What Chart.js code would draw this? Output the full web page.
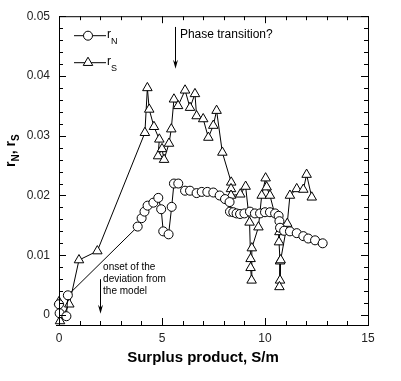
<!DOCTYPE html>
<html>
<head>
<meta charset="utf-8">
<script src="https://cdn.jsdelivr.net/npm/chart.js@4.4.0/dist/chart.umd.min.js"></script>
<style>
  html, body { margin: 0; padding: 0; background: #fff; }
  canvas { display: block; }
</style>
</head>
<body>
<canvas id="myChart" width="401" height="381"></canvas>
<script>
// r_N (circles)
const rNx = [0.0, 0.03, 0.36, 0.43, 3.82, 4.01, 4.15, 4.30, 4.58, 4.82, 4.96, 5.06, 5.32, 5.47,
  5.58, 5.79, 6.12, 6.36, 6.68, 6.93, 7.20, 7.49, 7.80, 8.06, 8.28, 8.30, 8.46, 8.62, 8.79,
  9.00, 9.27, 9.51, 9.76, 10.00, 10.24, 10.49, 10.66, 10.70, 10.73, 10.93, 11.21, 11.54,
  11.86, 12.10, 12.43, 12.80];
const rNy = [0.0018, 0.0003, -0.0002, 0.0033, 0.0148, 0.0162, 0.0173, 0.0183, 0.0188, 0.0196,
  0.0177, 0.0140, 0.0135, 0.0181, 0.0220, 0.0220, 0.0208, 0.0208, 0.0204, 0.0206, 0.0206,
  0.0205, 0.0200, 0.0194, 0.0189, 0.0173, 0.0172, 0.0170, 0.0169, 0.0170, 0.0173, 0.0170,
  0.0170, 0.0172, 0.0172, 0.0170, 0.0166, 0.0157, 0.0146, 0.0141, 0.0140, 0.0137, 0.0132,
  0.0128, 0.0125, 0.0120];

// r_S (triangles)
const rSx = [0.0, 0.05, 0.5, 0.97, 1.86, 4.17, 4.29, 4.38, 4.61, 4.87, 4.81, 5.0, 5.1, 5.34,
  5.45, 5.58, 5.78, 6.12, 6.36, 6.6, 6.68, 7.0, 7.25, 7.49, 7.65, 7.93, 8.36, 8.35, 8.35,
  8.80, 9.06, 9.25, 9.30, 9.30, 9.35, 9.36, 9.68, 9.84, 10.03, 10.08, 10.24, 10.70, 10.68,
  10.73, 10.73, 10.70, 10.76, 11.08, 11.21, 11.54, 11.86, 12.02, 12.27];
const rSy = [0.0022, -0.0010, 0.0018, 0.0092, 0.0107, 0.0305, 0.0380, 0.0344, 0.0315, 0.0294,
  0.0266, 0.0278, 0.0260, 0.0287, 0.0311, 0.0361, 0.0350, 0.0376, 0.0347, 0.0370, 0.0333,
  0.0328, 0.0297, 0.0317, 0.0342, 0.0272, 0.0222, 0.0211, 0.0200, 0.0202, 0.0215, 0.0155,
  0.0094, 0.0079, 0.0058, 0.0112, 0.0147, 0.0200, 0.0229, 0.0214, 0.0200, 0.0139, 0.0122,
  0.0090, 0.0058, 0.0047, 0.0092, 0.0153, 0.0200, 0.0211, 0.0210, 0.0235, 0.0197];

const xTicks = [0, 5, 10, 15];
const yTicks = [0, 0.01, 0.02, 0.03, 0.04, 0.05];
const xMinorStep = 1;
const yMinorStep = 0.002;
const xMin = 0, xMax = 15;
const yMin = -0.00167, yMax = 0.05;

const xTitle = 'Surplus product, S/m';
const noteTop = 'Phase transition?';
const noteBottom = ['onset of the', 'deviation from', 'the model'];

const FONT = '"Liberation Sans", Arial, sans-serif';

const toPoints = (xs, ys) => xs.map((x, i) => ({x: x, y: ys[i]}));

// draws "base" followed by a lowered subscript, returns the total width
const drawSub = (ctx, x, y, base, sub, font, subFont, drop) => {
    ctx.font = font;
    ctx.fillText(base, x, y);
    let w = ctx.measureText(base).width;
    ctx.font = subFont;
    ctx.fillText(sub, x + w, y + drop);
    return w + ctx.measureText(sub).width;
};

const arrowDown = (ctx, px, top, tip) => {
    ctx.beginPath();
    ctx.moveTo(px, top);
    ctx.lineTo(px, tip - 4);
    ctx.stroke();
    ctx.beginPath();
    ctx.moveTo(px, tip);
    ctx.lineTo(px - 2.5, tip - 9);
    ctx.lineTo(px, tip - 6);
    ctx.lineTo(px + 2.5, tip - 9);
    ctx.closePath();
    ctx.fill();
};

const framePlugin = {
    id: 'framePlugin',
    afterDraw(chart) {
        const {ctx, chartArea: a} = chart;
        const {x, y} = chart.scales;
        ctx.save();
        ctx.strokeStyle = '#000';
        ctx.fillStyle = '#000';
        ctx.lineWidth = 1;
        ctx.strokeRect(a.left + 0.5, a.top + 0.5, a.right - a.left, a.bottom - a.top);
        // x axis line runs a little past the left edge, as in the original
        ctx.beginPath();
        ctx.moveTo(a.left - 3, a.bottom + 0.5);
        ctx.lineTo(a.left, a.bottom + 0.5);
        ctx.stroke();

        // inward ticks on all four sides
        ctx.beginPath();
        for (let k = 0; k * xMinorStep <= xMax; k++) {
            const v = k * xMinorStep;
            const px = Math.round(x.getPixelForValue(v)) + 0.5;
            const len = xTicks.includes(v) ? 7 : 4;
            ctx.moveTo(px, a.bottom);
            ctx.lineTo(px, a.bottom - len);
            ctx.moveTo(px, a.top);
            ctx.lineTo(px, a.top + len);
        }
        for (let k = 0; k * yMinorStep <= yMax + 1e-9; k++) {
            const py = Math.round(y.getPixelForValue(k * yMinorStep)) + 0.5;
            const len = k % 5 === 0 ? 7 : 4;
            ctx.moveTo(a.left, py);
            ctx.lineTo(a.left + len, py);
            ctx.moveTo(a.right, py);
            ctx.lineTo(a.right - len, py);
        }
        ctx.stroke();

        // x title
        ctx.font = 'bold 15px ' + FONT;
        ctx.textAlign = 'center';
        ctx.textBaseline = 'alphabetic';
        ctx.fillText(xTitle, a.left + 144, 362);

        // y title, rotated
        ctx.textAlign = 'left';
        ctx.save();
        const bold = 'bold 14px ' + FONT, boldSub = 'bold 10px ' + FONT;
        ctx.font = bold;
        let tw = ctx.measureText('r, r').width;
        ctx.font = boldSub;
        tw += ctx.measureText('NS').width;
        ctx.translate(15, 151 + tw / 2);
        ctx.rotate(-Math.PI / 2);
        let cx = drawSub(ctx, 0, 0, 'r', 'N', bold, boldSub, 4);
        ctx.font = bold;
        ctx.fillText(', ', cx, 0);
        cx += ctx.measureText(', ').width;
        drawSub(ctx, cx, 0, 'r', 'S', bold, boldSub, 4);
        ctx.restore();

        // legend
        const rows = [
            {y: a.top + 19, style: 'circle', radius: 4.5, sub: 'N'},
            {y: a.top + 46, style: 'triangle', radius: 5.5, sub: 'S'}
        ];
        rows.forEach(r => {
            ctx.beginPath();
            ctx.moveTo(a.left + 15, r.y + 0.5);
            ctx.lineTo(a.left + 47, r.y + 0.5);
            ctx.stroke();
            ctx.fillStyle = '#fff';
            Chart.helpers.drawPoint(ctx, {pointStyle: r.style, radius: r.radius, borderWidth: 1},
                a.left + 29, r.y + 0.5);
            ctx.fillStyle = '#000';
            drawSub(ctx, a.left + 48, r.y + 3, 'r', r.sub, '12px ' + FONT, '9px ' + FONT, 6);
        });

        // annotations
        arrowDown(ctx, Math.round(x.getPixelForValue(5.63)) + 0.5,
            y.getPixelForValue(0.0482), y.getPixelForValue(0.0412));
        ctx.font = '12px ' + FONT;
        ctx.fillText(noteTop, x.getPixelForValue(5.87), y.getPixelForValue(0.0463));

        arrowDown(ctx, Math.round(x.getPixelForValue(2.0)) + 0.5,
            y.getPixelForValue(0.0060), y.getPixelForValue(0.0002));
        ctx.font = '10px ' + FONT;
        const ny = y.getPixelForValue(0.0075);
        noteBottom.forEach((t, i) => {
            ctx.fillText(t, x.getPixelForValue(2.14), ny + i * 12);
        });
        ctx.restore();
    }
};

const tickFont = {family: FONT, size: 12};

new Chart(document.getElementById('myChart').getContext('2d'), {
    type: 'scatter',
    data: {
        datasets: [{
            label: 'rN',
            data: toPoints(rNx, rNy),
            showLine: true,
            borderColor: '#000',
            borderWidth: 1,
            pointStyle: 'circle',
            pointRadius: 4.5,
            pointBackgroundColor: '#fff',
            pointBorderColor: '#000',
            pointBorderWidth: 1,
            clip: false
        }, {
            label: 'rS',
            data: toPoints(rSx, rSy),
            showLine: true,
            borderColor: '#000',
            borderWidth: 1,
            pointStyle: 'triangle',
            pointRadius: 5.5,
            pointBackgroundColor: '#fff',
            pointBorderColor: '#000',
            pointBorderWidth: 1,
            clip: false
        }]
    },
    options: {
        responsive: false,
        animation: false,
        devicePixelRatio: 1,
        layout: {padding: {top: 15, right: 33, left: 0, bottom: 0}},
        plugins: {legend: {display: false}, tooltip: {enabled: false}},
        scales: {
            x: {
                type: 'linear', min: xMin, max: xMax,
                grid: {display: false, drawTicks: false},
                border: {display: false},
                afterBuildTicks: s => { s.ticks = xTicks.map(v => ({value: v})); },
                afterFit: s => { s.height = 56; },
                ticks: {padding: 6, color: '#222', font: tickFont, maxRotation: 0, autoSkip: false,
                    callback: v => String(v)}
            },
            y: {
                type: 'linear', min: yMin, max: yMax,
                grid: {display: false, drawTicks: false},
                border: {display: false},
                afterBuildTicks: s => { s.ticks = yTicks.map(v => ({value: v})); },
                afterFit: s => { s.width = 59; },
                ticks: {padding: 9, color: '#222', font: tickFont, autoSkip: false,
                    callback: v => String(v)}
            }
        }
    },
    plugins: [framePlugin]
});
</script>
</body>
</html>
